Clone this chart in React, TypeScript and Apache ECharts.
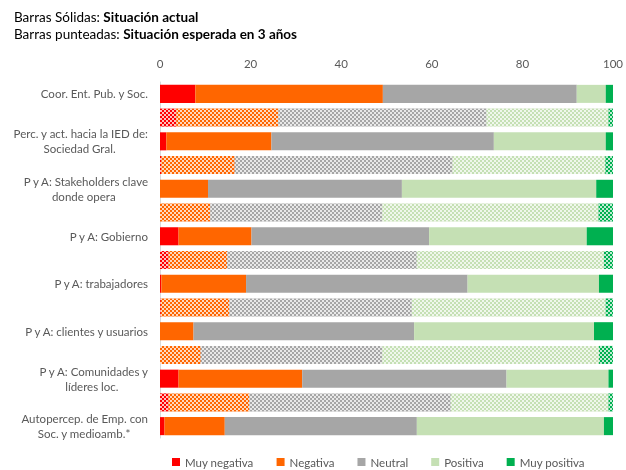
import React, { useEffect, useRef } from "react";
import * as echarts from "echarts";

const groupLabels = [
  "Coor. Ent. Pub. y Soc.",
  "Perc. y act. hacia la IED de:\nSociedad Gral.",
  "P y A: Stakeholders clave\ndonde opera",
  "P y A: Gobierno",
  "P y A: trabajadores",
  "P y A: clientes y usuarios",
  "P y A: Comunidades y\nlíderes loc.",
  "Autopercep. de Emp. con\nSoc. y medioamb.*",
];

const seriesNames = ["Muy negativa", "Negativa", "Neutral", "Positiva", "Muy positiva"];
const seriesColors = ["#FF0000", "#FF6600", "#A6A6A6", "#C5E0B4", "#00B050"];

// Situación actual (barras sólidas)
const actualMuyNegativa = [7.8, 1.4, 0, 4.1, 0.3, 0, 4.1, 1.0];
const actualNegativa = [41.4, 23.2, 10.6, 16.1, 18.7, 7.4, 27.3, 13.3];
const actualNeutral = [42.8, 49.1, 42.8, 39.2, 48.9, 48.7, 45.1, 42.4];
const actualPositiva = [6.4, 24.7, 42.9, 34.8, 29.0, 39.7, 22.5, 41.3];
const actualMuyPositiva = [1.6, 1.6, 3.7, 5.8, 3.1, 4.2, 1.0, 2.0];

// Situación esperada en 3 años (barras punteadas)
const esperadaMuyNegativa = [3.6, 0.3, 0, 1.9, 0.2, 0, 1.9];
const esperadaNegativa = [22.5, 16.2, 11.1, 12.9, 15.1, 9.0, 17.8];
const esperadaNeutral = [46.0, 48.1, 38.0, 41.9, 40.3, 40.1, 44.5];
const esperadaPositiva = [26.9, 33.7, 47.7, 41.3, 42.8, 47.8, 34.8];
const esperadaMuyPositiva = [1.0, 1.7, 3.2, 2.0, 1.6, 3.1, 1.0];

const xTicks = [0, 20, 40, 60, 80, 100];

const actualSets = [actualMuyNegativa, actualNegativa, actualNeutral, actualPositiva, actualMuyPositiva];
const esperadaSets = [esperadaMuyNegativa, esperadaNegativa, esperadaNeutral, esperadaPositiva, esperadaMuyPositiva];

const decal = {
  symbol: "rect",
  symbolSize: 1,
  color: "rgba(255,255,255,0.75)",
  dashArrayX: [[2, 2], [0, 2, 2, 0]],
  dashArrayY: [2, 0],
  rotation: 0,
};

const LABEL_FONT = "11.5px Lato";
const NBSP = "\u00A0";

function measure(text: string): number {
  const c = document.createElement("canvas").getContext("2d");
  if (!c) return text.length * 5.5;
  c.font = LABEL_FONT;
  return c.measureText(text).width;
}

export default function App() {
  const ref = useRef<HTMLDivElement>(null);
  useEffect(() => {
    if (!ref.current) return;
    const chart = echarts.init(ref.current, null, { renderer: "svg" });

    const rowKeys: string[] = [];
    const rowLabels: string[] = [];
    const rowKind: ("a" | "e")[] = [];
    const rowIndex: number[] = [];
    groupLabels.forEach((g, i) => {
      rowKeys.push("a" + i);
      rowLabels.push(g);
      rowKind.push("a");
      rowIndex.push(i);
      if (i < esperadaMuyNegativa.length) {
        rowKeys.push("e" + i);
        rowLabels.push("");
        rowKind.push("e");
        rowIndex.push(i);
      }
    });

    // centre the lines of multi-line labels (lines are right-aligned): pad the shorter lines at the end
    const spaceW = measure(NBSP) || 3;
    const labelText: string[] = rowLabels.map((t) => {
      if (!t) return "";
      const lines = t.split("\n");
      if (lines.length === 1) return t;
      const widths = lines.map(measure);
      const maxW = Math.max(...widths);
      return lines
        .map((line, j) => {
          const n = Math.round((maxW - widths[j]) / 2 / spaceW);
          return line + NBSP.repeat(Math.max(0, n));
        })
        .join("\n");
    });

    const series = seriesNames.map((name, s) => ({
      name,
      type: "bar",
      stack: "total",
      barCategoryGap: "24%",
      itemStyle: { color: seriesColors[s] },
      emphasis: { disabled: true },
      data: rowKeys.map((_, r) => {
        const i = rowIndex[r];
        if (rowKind[r] === "a") return actualSets[s][i];
        return { value: esperadaSets[s][i], itemStyle: { color: seriesColors[s], decal } };
      }),
    }));

    chart.setOption({
      animation: false,
      textStyle: { fontFamily: "Lato" },
      title: {
        left: 9,
        top: 3,
        text:
          "{n|Barras Sólidas: }{b|Situación actual}\n{n|Barras punteadas: }{b|Situación esperada en 3 años}",
        textStyle: {
          fontWeight: "normal",
          rich: {
            n: { fontSize: 13.5, color: "#000", fontFamily: "Lato", fontWeight: "normal", lineHeight: 17 },
            b: { fontSize: 13.5, color: "#000", fontFamily: "Lato", fontWeight: "bold", lineHeight: 17 },
          },
        },
      },
      legend: {
        left: 172,
        top: 456,
        padding: 0,
        icon: "rect",
        itemWidth: 8,
        itemHeight: 8,
        itemGap: 23,
        data: seriesNames,
        textStyle: { color: "#595959", fontSize: 11.5, fontFamily: "Lato" },
        selectedMode: false,
      },
      grid: { left: 160, right: 11, top: 82, height: 356, containLabel: false },
      xAxis: {
        type: "value",
        position: "top",
        min: 0,
        max: 100,
        interval: 20,
        axisLine: { show: false },
        axisTick: { show: false },
        splitLine: { show: false },
        axisLabel: {
          color: "#595959",
          fontSize: 11.5,
          fontFamily: "Lato",
          margin: 13,
          formatter: (v: number) => (xTicks.includes(v) ? String(v) : ""),
        },
      },
      yAxis: {
        type: "category",
        inverse: true,
        data: rowKeys,
        axisLine: { show: true, lineStyle: { color: "#D9D9D9" } },
        axisTick: { show: false },
        axisLabel: {
          color: "#595959",
          fontSize: 11.5,
          fontFamily: "Lato",
          lineHeight: 15,
          margin: 12,
          align: "right",
          interval: 0,
          formatter: (_v: string, idx: number) => labelText[idx],
        },
      },
      series,
    });
    return () => chart.dispose();
  }, []);
  return (
    <div
      ref={ref}
      style={{ position: "fixed", left: 0, top: 0, width: 626, height: 470 }}
    />
  );
}
